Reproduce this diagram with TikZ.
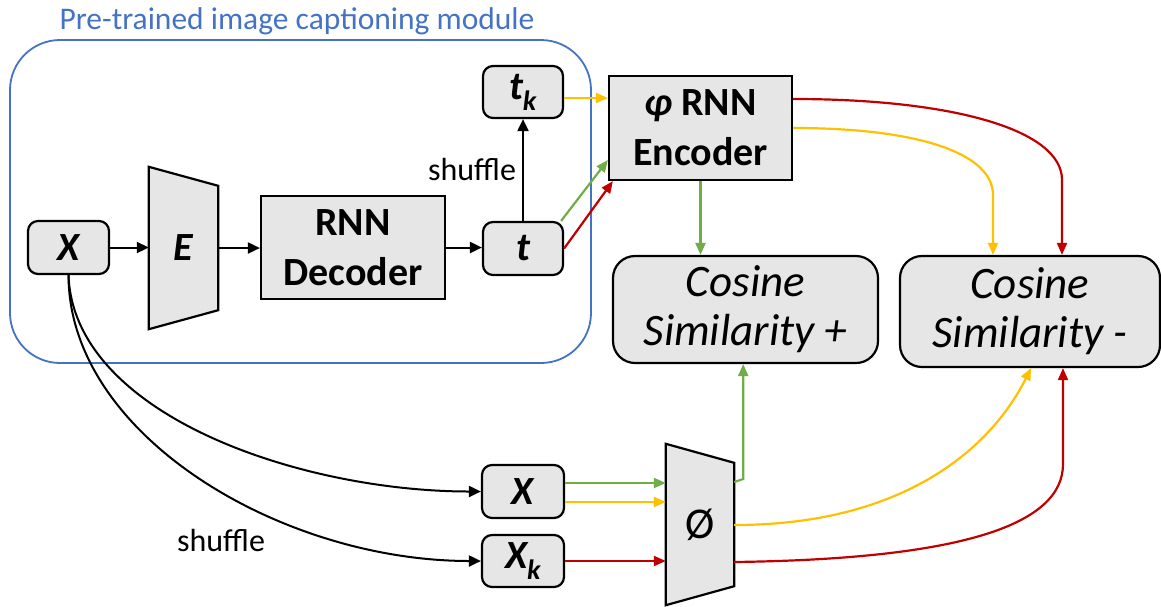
\documentclass[tikz,border=0pt]{standalone}
\usepackage{fontspec}
\setmainfont{Carlito}
\usetikzlibrary{arrows.meta,calc}
\definecolor{boxgray}{HTML}{E7E6E6}
\definecolor{myblue}{HTML}{4472C4}
\definecolor{mygreen}{HTML}{70AD47}
\definecolor{myyellow}{HTML}{FFC000}
\definecolor{myred}{HTML}{C00000}
\begin{document}
\begin{tikzpicture}[x=1pt,y=-1pt,
  box/.style={draw=black, line width=2.2pt, fill=boxgray, rounded corners=10pt, inner sep=0pt,
    font=\fontsize{40}{42}\selectfont\bfseries\itshape},
  sqbox/.style={draw=black, line width=2.2pt, fill=boxgray, inner sep=0pt, align=center,
    font=\fontsize{40}{50}\selectfont\bfseries},
  cosbox/.style={draw=black, line width=2.2pt, fill=boxgray, rounded corners=22pt, inner sep=0pt,
    align=center, font=\fontsize{45}{49}\selectfont\itshape},
  trapnode/.style={inner sep=0pt, font=\fontsize{40}{42}\selectfont\bfseries\itshape},
  trap/.style={draw=black, line width=2.2pt, fill=boxgray},
  lbl/.style={font=\fontsize{32}{34}\selectfont},
  blk/.style={draw=black, line width=2pt, -{Triangle[length=12pt,width=11pt]}},
  grn/.style={draw=mygreen, line width=2.2pt, -{Triangle[length=12pt,width=10pt]}},
  yel/.style={draw=myyellow, line width=2.2pt, -{Triangle[length=12pt,width=10pt]}},
  rd/.style={draw=myred, line width=2.2pt, -{Triangle[length=12pt,width=10pt]}},
]
\useasboundingbox (0,0) rectangle (1161,606);

% module frame and title
\node[draw=myblue, line width=1.8pt, rounded corners=50pt, minimum width=581pt, minimum height=323pt, inner sep=0pt] (module) at (300.5,201.5) {};
\node[font=\fontsize{31.5}{33}\selectfont, text=myblue] (title) at (297,21) {Pre-trained image captioning module};

% nodes
\node[box, minimum width=81pt, minimum height=53pt] (X1) at (68.5,247.5) {X};
\node[trapnode, minimum width=69pt, minimum height=162pt] (E) at (183.5,248) {};
\draw[trap] (E.north west) -- ($(E.north east)+(0,19)$) -- ($(E.south east)+(0,-19)$) -- (E.south west) -- cycle;
\node[trapnode] (Etext) at (E.center) {E};
\node[sqbox, minimum width=184pt, minimum height=103pt] (RNNd) at (353,247.5) {RNN\\Decoder};
\node[box, minimum width=80pt, minimum height=53pt] (t) at (523,248.5) {t};
\node[box, minimum width=80pt, minimum height=52pt] (tk) at (523,92) {t\textsubscript{k}};
\node[sqbox, minimum width=183pt, minimum height=104pt] (enc) at (700.5,128) {{\itshape φ} RNN\\Encoder};
\node[cosbox, minimum width=265pt, minimum height=107pt] (cosp) at (745.5,309.5) {Cosine\\Similarity +};
\node[cosbox, minimum width=260pt, minimum height=111pt] (cosm) at (1030,311.5) {Cosine\\Similarity -};
\node[box, minimum width=82pt, minimum height=53pt] (X2) at (523,491.5) {X};
\node[box, minimum width=82pt, minimum height=52pt] (Xk) at (523,561) {X\textsubscript{k}};
\node[trapnode, minimum width=68pt, minimum height=161pt] (P) at (700,524.5) {};
\draw[trap] (P.north west) -- ($(P.north east)+(0,19)$) -- ($(P.south east)+(0,-19)$) -- (P.south west) -- cycle;
\node[font=\fontsize{44}{46}\selectfont] (Ptext) at (P.center) {Ø};

% black connectors
\draw[blk] (X1.east) -- (X1.east -| E.west);
\draw[blk] (E.east) -- (E.east -| RNNd.west);
\draw[blk] (RNNd.east) -- (RNNd.east -| t.west);
\draw[blk] (t.north) -- (tk.south) node[midway, left, lbl, inner sep=6pt] (sh1) {shuffle};
\draw[blk] (X1.south) .. controls +(5,140) and +(-180,0) .. (X2.west);
\draw[blk] (X1.south) .. controls +(0,160) and +(-200,0) .. (Xk.west);
\node[lbl] (sh2) at (221,540) {shuffle};

% colored connectors into encoder
\draw[yel] ([yshift=-6pt]tk.east) -- ([yshift=-6pt]tk.east -| enc.west);
\draw[grn] ([xshift=-3pt]t.north east) -- ([yshift=-32pt]enc.west);
\draw[rd] (t.east) -- ([xshift=5pt]enc.south west);

% encoder outputs
\coordinate (rin) at ([xshift=32pt]cosm.north);
\coordinate (yin) at ([xshift=-37pt]cosm.north);
\draw[grn] (enc.south) -- (enc.south |- cosp.north);
\draw[rd] ([yshift=29pt]enc.east) .. controls +(160,0) and +(0,-50) .. ($(rin)+(0,-75)$) -- (rin);
\draw[yel] (enc.east) .. controls +(130,0) and +(0,-40) .. ($(yin)+(0,-60)$) -- (yin);

% inputs to phi
\draw[grn] ([yshift=8.5pt]X2.east) -- ([yshift=8.5pt]X2.east -| P.west);
\draw[yel] ([yshift=-10.5pt]X2.east) -- ([yshift=-10.5pt]X2.east -| P.west);
\draw[rd] (Xk.east) -- (Xk.east -| P.west);

% phi outputs
\coordinate (rin2) at ([xshift=33pt]cosm.south);
\draw[grn] ([yshift=42.5pt]P.east) -- ++(9,-3) coordinate (gB) -- (gB |- cosp.south);
\draw[yel] ([yshift=-0.5pt]P.east) .. controls +(170,0) and +(-40,80) .. ([xshift=1pt]cosm.south);
\draw[rd] ([yshift=-37.5pt]P.east) .. controls +(230,-3) and +(0,60) .. ($(rin2)+(0,96)$) -- (rin2);
\end{tikzpicture}
\end{document}
